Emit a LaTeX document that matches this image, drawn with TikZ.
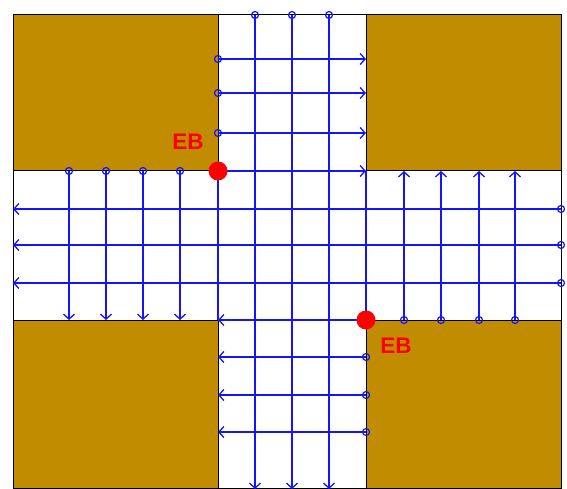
\documentclass[tikz,border=0pt]{standalone}
\usepackage{fontspec}
\setmainfont{Liberation Sans}
\usetikzlibrary{arrows.meta}
\definecolor{blockbrown}{RGB}{194,140,0}
\definecolor{flowblue}{RGB}{20,20,255}
\begin{document}
\begin{tikzpicture}[x=1pt, y=-1pt,
  block/.style={fill=blockbrown, draw=black, line width=1pt},
  flow/.style={flowblue, line width=1.3pt, -{Straight Barb[length=5pt,width=11pt,line width=1.3pt]}},
  link/.style={flowblue, line width=1.3pt},
  src/.style={flowblue, line width=1.2pt},
  ebtext/.style={red, font=\fontsize{22.5}{22.5}\selectfont\bfseries}]
  \useasboundingbox (0,0) rectangle (567,489);
  % four blocks round the crossing
  \filldraw[block] (13,15) rectangle (218,171);
  \filldraw[block] (366,15) rectangle (561,171);
  \filldraw[block] (13,320) rectangle (218,489);
  \filldraw[block] (366,320) rectangle (561,489);
  \draw[line width=1pt] (13,15) rectangle (561,488);
  % EB corners
  \coordinate (EB1) at (218,171);
  \coordinate (EB2) at (366,320);
  % vertical road: top to bottom
  \foreach \x in {255,292,329} {
    \draw[flow] (\x,15) -- (\x,489);
    \draw[src] (\x,15) circle (3.5pt);
  }
  % top arm: left to right
  \foreach \y in {59,93,133} {
    \draw[flow] (218,\y) -- (366,\y);
    \draw[src] (218,\y) circle (3.5pt);
  }
  % bottom arm: right to left
  \foreach \y in {357,395,432} {
    \draw[flow] (366,\y) -- (218,\y);
    \draw[src] (366,\y) circle (3.5pt);
  }
  % horizontal road: right to left
  \foreach \y in {209,245,283} {
    \draw[flow] (561,\y) -- (13,\y);
    \draw[src] (561,\y) circle (3.5pt);
  }
  % left arm: downward
  \foreach \x in {69,106,143,180} {
    \draw[flow] (\x,171) -- (\x,320);
    \draw[src] (\x,171) circle (3.5pt);
  }
  % right arm: upward
  \foreach \x in {404,441,479,515} {
    \draw[flow] (\x,320) -- (\x,171);
    \draw[src] (\x,320) circle (3.5pt);
  }
  % lines from the EB points
  \draw[flow] (EB1) -- (EB2 |- EB1);
  \draw[link] (EB1) -- (EB1 |- EB2);
  \draw[flow] (EB2) -- (EB1 |- EB2);
  \draw[link] (EB2) -- (EB2 |- EB1);
  \fill[red] (EB1) circle (9.5pt);
  \fill[red] (EB2) circle (9.5pt);
  \node[ebtext] (lab1) at (188,142) {EB};
  \node[ebtext] (lab2) at (396,346) {EB};
\end{tikzpicture}
\end{document}
